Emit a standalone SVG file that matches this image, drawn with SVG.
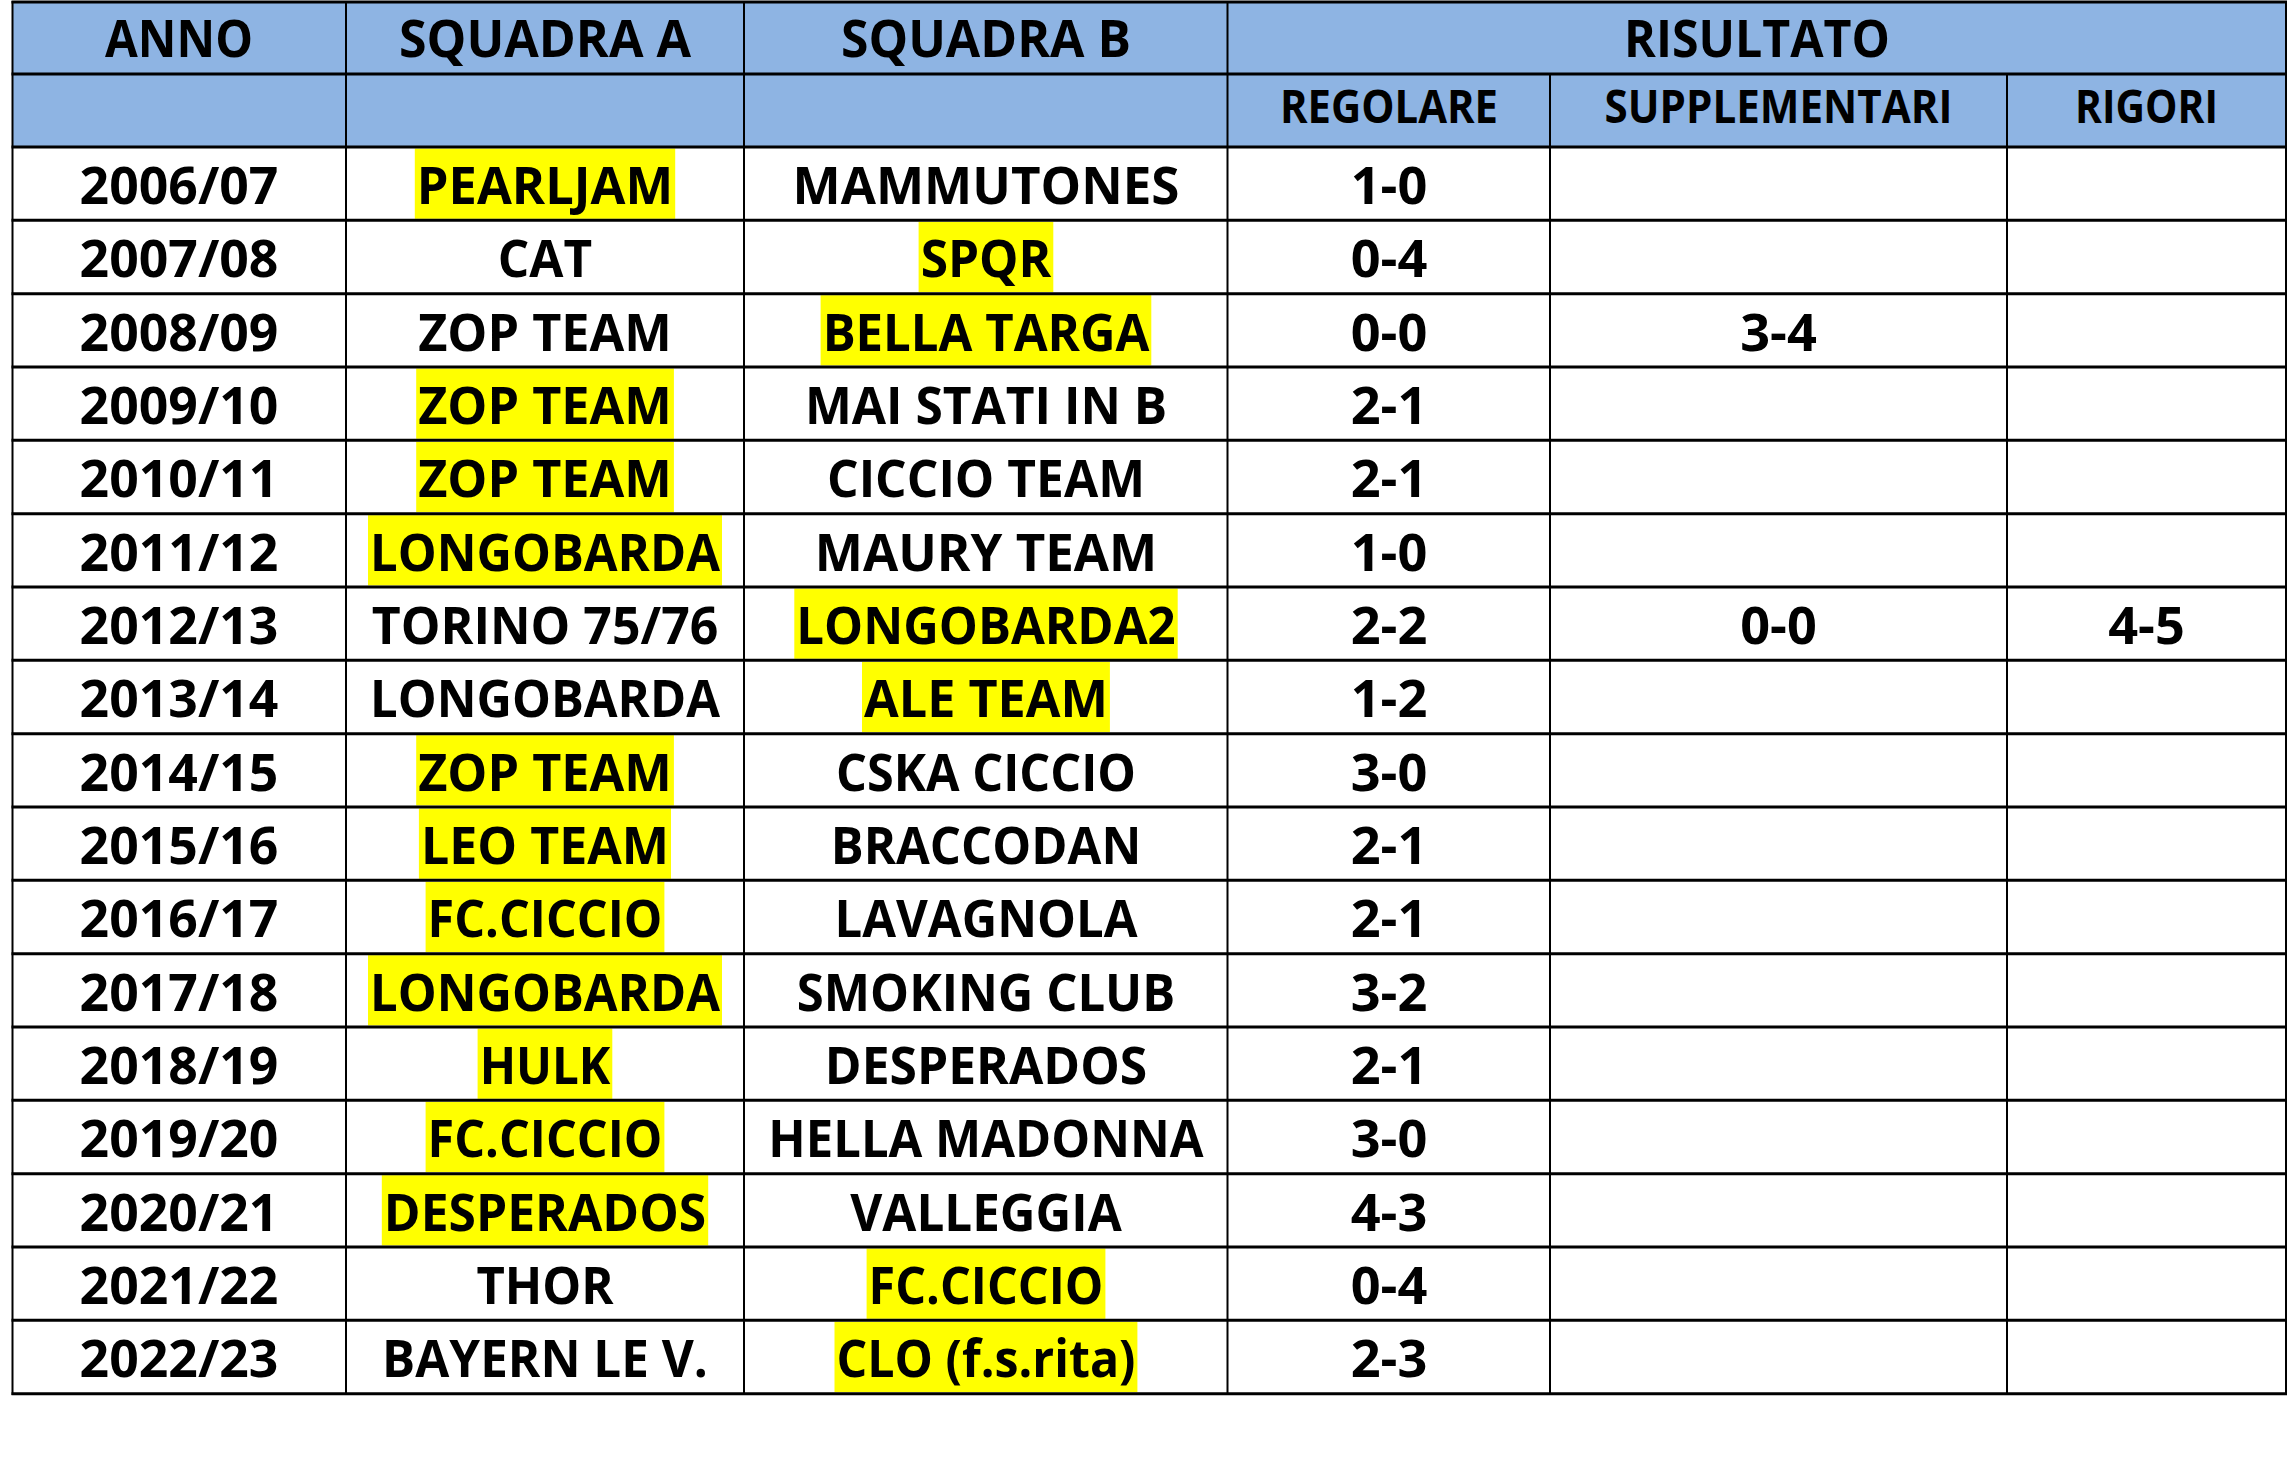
<svg xmlns="http://www.w3.org/2000/svg" width="2288" height="1461" viewBox="0 0 2288 1461">
<style>
.t{font-family:"Open Sans","Liberation Sans",sans-serif;font-weight:700;font-size:52px;text-anchor:middle;fill:#000}
.h2{font-size:47px}
.hl{fill:#FFFF00}
.hz{stroke:#000;stroke-width:3}
.vt{stroke:#000;stroke-width:2}
</style>
<rect x="0" y="0" width="2288" height="1461" fill="#fff"/>
<rect id="header-bg" x="12.5" y="2" width="2273.5" height="145" fill="#8EB4E3"/>
<g id="header">
<text class="t" x="179" y="57" textLength="148" lengthAdjust="spacingAndGlyphs">ANNO</text>
<text class="t" x="545" y="57" textLength="292" lengthAdjust="spacingAndGlyphs">SQUADRA A</text>
<text class="t" x="986" y="57" textLength="290" lengthAdjust="spacingAndGlyphs">SQUADRA B</text>
<text class="t" x="1757" y="57" textLength="266" lengthAdjust="spacingAndGlyphs">RISULTATO</text>
<text class="t h2" x="1389" y="123" textLength="218" lengthAdjust="spacingAndGlyphs">REGOLARE</text>
<text class="t h2" x="1778.5" y="123" textLength="348" lengthAdjust="spacingAndGlyphs">SUPPLEMENTARI</text>
<text class="t h2" x="2146.5" y="123" textLength="143" lengthAdjust="spacingAndGlyphs">RIGORI</text>
</g>
<g id="row-2006" transform="translate(0,147)">
<rect class="hl" x="414.8" y="1.5" width="260.4" height="70.3"/>
<text class="t" x="179" y="57" textLength="198.8" lengthAdjust="spacingAndGlyphs">2006/07</text>
<text class="t" x="545" y="57" textLength="256.4" lengthAdjust="spacingAndGlyphs">PEARLJAM</text>
<text class="t" x="986" y="57" textLength="387" lengthAdjust="spacingAndGlyphs">MAMMUTONES</text>
<text class="t" x="1389" y="57" textLength="76.6" lengthAdjust="spacingAndGlyphs">1-0</text>
</g>
<g id="row-2007" transform="translate(0,220.33)">
<rect class="hl" x="918.6" y="1.5" width="134.7" height="70.3"/>
<text class="t" x="179" y="57" textLength="198.8" lengthAdjust="spacingAndGlyphs">2007/08</text>
<text class="t" x="545" y="57" textLength="94.4" lengthAdjust="spacingAndGlyphs">CAT</text>
<text class="t" x="986" y="57" textLength="130.7" lengthAdjust="spacingAndGlyphs">SPQR</text>
<text class="t" x="1389" y="57" textLength="76.6" lengthAdjust="spacingAndGlyphs">0-4</text>
</g>
<g id="row-2008" transform="translate(0,293.67)">
<rect class="hl" x="820.6" y="1.5" width="330.7" height="70.3"/>
<text class="t" x="179" y="57" textLength="198.8" lengthAdjust="spacingAndGlyphs">2008/09</text>
<text class="t" x="545" y="57" textLength="253.7" lengthAdjust="spacingAndGlyphs">ZOP TEAM</text>
<text class="t" x="986" y="57" textLength="326.7" lengthAdjust="spacingAndGlyphs">BELLA TARGA</text>
<text class="t" x="1389" y="57" textLength="76.6" lengthAdjust="spacingAndGlyphs">0-0</text>
<text class="t" x="1778.5" y="57" textLength="76.6" lengthAdjust="spacingAndGlyphs">3-4</text>
</g>
<g id="row-2009" transform="translate(0,367)">
<rect class="hl" x="416.2" y="1.5" width="257.7" height="70.3"/>
<text class="t" x="179" y="57" textLength="198.8" lengthAdjust="spacingAndGlyphs">2009/10</text>
<text class="t" x="545" y="57" textLength="253.7" lengthAdjust="spacingAndGlyphs">ZOP TEAM</text>
<text class="t" x="986" y="57" textLength="362.2" lengthAdjust="spacingAndGlyphs">MAI STATI IN B</text>
<text class="t" x="1389" y="57" textLength="76.6" lengthAdjust="spacingAndGlyphs">2-1</text>
</g>
<g id="row-2010" transform="translate(0,440.33)">
<rect class="hl" x="416.2" y="1.5" width="257.7" height="70.3"/>
<text class="t" x="179" y="57" textLength="198.8" lengthAdjust="spacingAndGlyphs">2010/11</text>
<text class="t" x="545" y="57" textLength="253.7" lengthAdjust="spacingAndGlyphs">ZOP TEAM</text>
<text class="t" x="986" y="57" textLength="318" lengthAdjust="spacingAndGlyphs">CICCIO TEAM</text>
<text class="t" x="1389" y="57" textLength="76.6" lengthAdjust="spacingAndGlyphs">2-1</text>
</g>
<g id="row-2011" transform="translate(0,513.67)">
<rect class="hl" x="368" y="1.5" width="354" height="70.3"/>
<text class="t" x="179" y="57" textLength="198.8" lengthAdjust="spacingAndGlyphs">2011/12</text>
<text class="t" x="545" y="57" textLength="350" lengthAdjust="spacingAndGlyphs">LONGOBARDA</text>
<text class="t" x="986" y="57" textLength="342.4" lengthAdjust="spacingAndGlyphs">MAURY TEAM</text>
<text class="t" x="1389" y="57" textLength="76.6" lengthAdjust="spacingAndGlyphs">1-0</text>
</g>
<g id="row-2012" transform="translate(0,587)">
<rect class="hl" x="794.3" y="1.5" width="383.4" height="70.3"/>
<text class="t" x="179" y="57" textLength="198.8" lengthAdjust="spacingAndGlyphs">2012/13</text>
<text class="t" x="545" y="57" textLength="346.6" lengthAdjust="spacingAndGlyphs">TORINO 75/76</text>
<text class="t" x="986" y="57" textLength="379.4" lengthAdjust="spacingAndGlyphs">LONGOBARDA2</text>
<text class="t" x="1389" y="57" textLength="76.6" lengthAdjust="spacingAndGlyphs">2-2</text>
<text class="t" x="1778.5" y="57" textLength="76.6" lengthAdjust="spacingAndGlyphs">0-0</text>
<text class="t" x="2146.5" y="57" textLength="76.6" lengthAdjust="spacingAndGlyphs">4-5</text>
</g>
<g id="row-2013" transform="translate(0,660.33)">
<rect class="hl" x="862" y="1.5" width="247.9" height="70.3"/>
<text class="t" x="179" y="57" textLength="198.8" lengthAdjust="spacingAndGlyphs">2013/14</text>
<text class="t" x="545" y="57" textLength="350" lengthAdjust="spacingAndGlyphs">LONGOBARDA</text>
<text class="t" x="986" y="57" textLength="243.9" lengthAdjust="spacingAndGlyphs">ALE TEAM</text>
<text class="t" x="1389" y="57" textLength="76.6" lengthAdjust="spacingAndGlyphs">1-2</text>
</g>
<g id="row-2014" transform="translate(0,733.67)">
<rect class="hl" x="416.2" y="1.5" width="257.7" height="70.3"/>
<text class="t" x="179" y="57" textLength="198.8" lengthAdjust="spacingAndGlyphs">2014/15</text>
<text class="t" x="545" y="57" textLength="253.7" lengthAdjust="spacingAndGlyphs">ZOP TEAM</text>
<text class="t" x="986" y="57" textLength="300" lengthAdjust="spacingAndGlyphs">CSKA CICCIO</text>
<text class="t" x="1389" y="57" textLength="76.6" lengthAdjust="spacingAndGlyphs">3-0</text>
</g>
<g id="row-2015" transform="translate(0,807)">
<rect class="hl" x="418.9" y="1.5" width="252.1" height="70.3"/>
<text class="t" x="179" y="57" textLength="198.8" lengthAdjust="spacingAndGlyphs">2015/16</text>
<text class="t" x="545" y="57" textLength="248.1" lengthAdjust="spacingAndGlyphs">LEO TEAM</text>
<text class="t" x="986" y="57" textLength="310.5" lengthAdjust="spacingAndGlyphs">BRACCODAN</text>
<text class="t" x="1389" y="57" textLength="76.6" lengthAdjust="spacingAndGlyphs">2-1</text>
</g>
<g id="row-2016" transform="translate(0,880.33)">
<rect class="hl" x="425.6" y="1.5" width="238.8" height="70.3"/>
<text class="t" x="179" y="57" textLength="198.8" lengthAdjust="spacingAndGlyphs">2016/17</text>
<text class="t" x="545" y="57" textLength="234.8" lengthAdjust="spacingAndGlyphs">FC.CICCIO</text>
<text class="t" x="986" y="57" textLength="303" lengthAdjust="spacingAndGlyphs">LAVAGNOLA</text>
<text class="t" x="1389" y="57" textLength="76.6" lengthAdjust="spacingAndGlyphs">2-1</text>
</g>
<g id="row-2017" transform="translate(0,953.67)">
<rect class="hl" x="368" y="1.5" width="354" height="70.3"/>
<text class="t" x="179" y="57" textLength="198.8" lengthAdjust="spacingAndGlyphs">2017/18</text>
<text class="t" x="545" y="57" textLength="350" lengthAdjust="spacingAndGlyphs">LONGOBARDA</text>
<text class="t" x="986" y="57" textLength="378.3" lengthAdjust="spacingAndGlyphs">SMOKING CLUB</text>
<text class="t" x="1389" y="57" textLength="76.6" lengthAdjust="spacingAndGlyphs">3-2</text>
</g>
<g id="row-2018" transform="translate(0,1027)">
<rect class="hl" x="477.6" y="1.5" width="134.7" height="70.3"/>
<text class="t" x="179" y="57" textLength="198.8" lengthAdjust="spacingAndGlyphs">2018/19</text>
<text class="t" x="545" y="57" textLength="130.7" lengthAdjust="spacingAndGlyphs">HULK</text>
<text class="t" x="986" y="57" textLength="322.4" lengthAdjust="spacingAndGlyphs">DESPERADOS</text>
<text class="t" x="1389" y="57" textLength="76.6" lengthAdjust="spacingAndGlyphs">2-1</text>
</g>
<g id="row-2019" transform="translate(0,1100.33)">
<rect class="hl" x="425.6" y="1.5" width="238.8" height="70.3"/>
<text class="t" x="179" y="57" textLength="198.8" lengthAdjust="spacingAndGlyphs">2019/20</text>
<text class="t" x="545" y="57" textLength="234.8" lengthAdjust="spacingAndGlyphs">FC.CICCIO</text>
<text class="t" x="986" y="57" textLength="435.3" lengthAdjust="spacingAndGlyphs">HELLA MADONNA</text>
<text class="t" x="1389" y="57" textLength="76.6" lengthAdjust="spacingAndGlyphs">3-0</text>
</g>
<g id="row-2020" transform="translate(0,1173.67)">
<rect class="hl" x="381.8" y="1.5" width="326.4" height="70.3"/>
<text class="t" x="179" y="57" textLength="198.8" lengthAdjust="spacingAndGlyphs">2020/21</text>
<text class="t" x="545" y="57" textLength="322.4" lengthAdjust="spacingAndGlyphs">DESPERADOS</text>
<text class="t" x="986" y="57" textLength="271.4" lengthAdjust="spacingAndGlyphs">VALLEGGIA</text>
<text class="t" x="1389" y="57" textLength="76.6" lengthAdjust="spacingAndGlyphs">4-3</text>
</g>
<g id="row-2021" transform="translate(0,1247)">
<rect class="hl" x="866.6" y="1.5" width="238.8" height="70.3"/>
<text class="t" x="179" y="57" textLength="198.8" lengthAdjust="spacingAndGlyphs">2021/22</text>
<text class="t" x="545" y="57" textLength="137.2" lengthAdjust="spacingAndGlyphs">THOR</text>
<text class="t" x="986" y="57" textLength="234.8" lengthAdjust="spacingAndGlyphs">FC.CICCIO</text>
<text class="t" x="1389" y="57" textLength="76.6" lengthAdjust="spacingAndGlyphs">0-4</text>
</g>
<g id="row-2022" transform="translate(0,1320.33)">
<rect class="hl" x="834.5" y="1.5" width="302.9" height="70.3"/>
<text class="t" x="179" y="57" textLength="198.8" lengthAdjust="spacingAndGlyphs">2022/23</text>
<text class="t" x="545" y="57" textLength="325.8" lengthAdjust="spacingAndGlyphs">BAYERN LE V.</text>
<text class="t" x="986" y="57" textLength="298.9" lengthAdjust="spacingAndGlyphs">CLO (f.s.rita)</text>
<text class="t" x="1389" y="57" textLength="76.6" lengthAdjust="spacingAndGlyphs">2-3</text>
</g>
<g id="grid">
<line class="hz" x1="11.5" y1="2" x2="2287" y2="2"/>
<line class="hz" x1="11.5" y1="74" x2="2287" y2="74"/>
<line class="hz" x1="11.5" y1="147" x2="2287" y2="147"/>
<line class="hz" x1="11.5" y1="220.33" x2="2287" y2="220.33"/>
<line class="hz" x1="11.5" y1="293.67" x2="2287" y2="293.67"/>
<line class="hz" x1="11.5" y1="367" x2="2287" y2="367"/>
<line class="hz" x1="11.5" y1="440.33" x2="2287" y2="440.33"/>
<line class="hz" x1="11.5" y1="513.67" x2="2287" y2="513.67"/>
<line class="hz" x1="11.5" y1="587" x2="2287" y2="587"/>
<line class="hz" x1="11.5" y1="660.33" x2="2287" y2="660.33"/>
<line class="hz" x1="11.5" y1="733.67" x2="2287" y2="733.67"/>
<line class="hz" x1="11.5" y1="807" x2="2287" y2="807"/>
<line class="hz" x1="11.5" y1="880.33" x2="2287" y2="880.33"/>
<line class="hz" x1="11.5" y1="953.67" x2="2287" y2="953.67"/>
<line class="hz" x1="11.5" y1="1027" x2="2287" y2="1027"/>
<line class="hz" x1="11.5" y1="1100.33" x2="2287" y2="1100.33"/>
<line class="hz" x1="11.5" y1="1173.67" x2="2287" y2="1173.67"/>
<line class="hz" x1="11.5" y1="1247" x2="2287" y2="1247"/>
<line class="hz" x1="11.5" y1="1320.33" x2="2287" y2="1320.33"/>
<line class="hz" x1="11.5" y1="1393.67" x2="2287" y2="1393.67"/>
<line class="vt" x1="12.5" y1="1" x2="12.5" y2="1395"/>
<line class="vt" x1="346" y1="1" x2="346" y2="1395"/>
<line class="vt" x1="744" y1="1" x2="744" y2="1395"/>
<line class="vt" x1="1227.5" y1="1" x2="1227.5" y2="1395"/>
<line class="vt" x1="1550" y1="74" x2="1550" y2="1395"/>
<line class="vt" x1="2007" y1="74" x2="2007" y2="1395"/>
<line class="vt" x1="2286" y1="1" x2="2286" y2="1395"/>
</g>
</svg>
